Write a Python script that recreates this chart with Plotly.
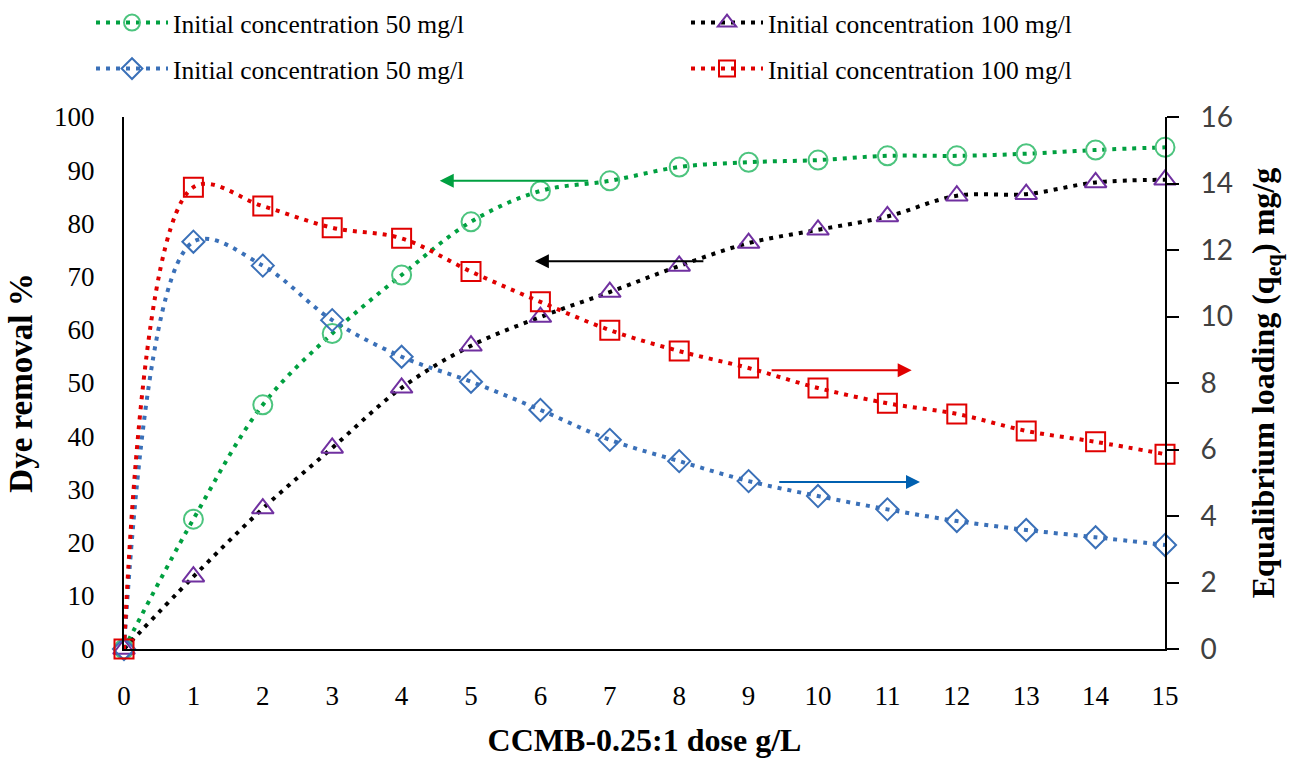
import plotly.graph_objects as go

dose = list(range(16))
removal_50 = [0, 24.4, 45.9, 59.3, 70.3, 80.3, 86.1, 88.0, 90.6, 91.5, 91.9, 92.7, 92.7, 93.1, 93.8, 94.3]
removal_100 = [0, 13.6, 26.4, 37.8, 49.1, 57.0, 62.4, 67.1, 72.0, 76.3, 78.8, 81.3, 85.2, 85.5, 87.7, 88.2]
qeq_50 = [0, 12.25, 11.53, 9.89, 8.79, 8.04, 7.19, 6.29, 5.65, 5.05, 4.6, 4.2, 3.85, 3.58, 3.36, 3.13]
qeq_100 = [0, 13.89, 13.32, 12.67, 12.35, 11.35, 10.44, 9.59, 8.96, 8.45, 7.85, 7.39, 7.07, 6.56, 6.23, 5.86]
left_ticks = list(range(0, 101, 10))
right_ticks = list(range(0, 17, 2))

TIMES = "Liberation Serif"
W, H = 1291, 760

fig = go.Figure()

def add(y, name, lc, mc, sym, yaxis, legend, size):
    fig.add_trace(go.Scatter(
        x=dose, y=y, name=name, yaxis=yaxis, legend=legend, showlegend=True,
        mode="lines+markers", cliponaxis=False,
        line=dict(color=lc, width=4, dash="4px,6px", shape="spline", smoothing=1.0),
        marker=dict(symbol=sym, size=size, color=mc, line=dict(color=mc, width=2)),
    ))

add(removal_50, "Initial concentration 50 mg/l", "#00a040", "#4cc47e", "circle-open", "y", "legend", 19)
add(removal_100, "Initial concentration 100 mg/l", "#000000", "#7030a0", "triangle-up-open", "y", "legend2", 19)
add(qeq_50, "Initial concentration 50 mg/l", "#3a70b8", "#3a70b8", "diamond-open", "y2", "legend3", 17)
add(qeq_100, "Initial concentration 100 mg/l", "#e00000", "#e00000", "square-open", "y2", "legend4", 19)

arrows = [
    (6.71, 4.55, 88.0, "#00a040"),
    (8.37, 5.92, 72.9, "#000000"),
    (9.31, 11.35, 52.4, "#e00000"),
    (9.42, 11.47, 31.4, "#0060b0"),
]
for tail, head, yy, c in arrows:
    fig.add_annotation(x=head, y=yy, ax=tail, ay=yy, xref="x", yref="y", axref="x", ayref="y",
                       text="", showarrow=True, arrowhead=2, arrowsize=1.4, arrowwidth=2, arrowcolor=c)

def leg(xpx, ypx):
    return dict(orientation="h", font=dict(family=TIMES, size=25.5, color="#000"),
                itemwidth=72, bgcolor="rgba(0,0,0,0)", borderwidth=0,
                xanchor="left", yanchor="middle", xref="container", yref="container",
                x=xpx / W, y=1 - ypx / H)

fig.update_layout(
    width=W, height=H, showlegend=True,
    margin=dict(l=124, r=126, t=117, b=111, autoexpand=False),
    plot_bgcolor="white", paper_bgcolor="white",
    legend=leg(91, 23), legend2=leg(686, 23), legend3=leg(91, 69), legend4=leg(686, 69),
    xaxis=dict(range=[0, 15], tickvals=dose, ticktext=[str(d) for d in dose],
               showline=True, linecolor="black", linewidth=2, ticks="", ticklabelstandoff=22,
               showgrid=False, zeroline=False,
               tickfont=dict(family=TIMES, size=27, color="#000"),
               title=dict(text="<b>CCMB-0.25:1 dose g/L</b>", font=dict(family=TIMES, size=32, color="#000"), standoff=18)),
    yaxis=dict(range=[0, 100], tickvals=left_ticks, ticktext=[str(t) for t in left_ticks],
               showline=True, linecolor="black", linewidth=2, ticks="", ticklabelstandoff=22,
               showgrid=False, zeroline=False,
               tickfont=dict(family=TIMES, size=27, color="#000"),
               title=dict(text="<b>Dye removal %</b>", font=dict(family=TIMES, size=33, color="#000"), standoff=12)),
    yaxis2=dict(range=[0, 16], tickvals=right_ticks, ticktext=[str(t) for t in right_ticks],
                overlaying="y", side="right",
                showline=True, linecolor="black", linewidth=2, ticks="outside", ticklen=12, tickwidth=2,
                tickcolor="black", ticklabelstandoff=16,
                showgrid=False, zeroline=False,
                tickfont=dict(family="Lato", size=28, color="#404040"),
                title=dict(text="<b>Equalibrium loading (q<sub>eq</sub>) mg/g</b>", font=dict(family=TIMES, size=32, color="#000"), standoff=20)),
)

fig.write_html("out.html")
